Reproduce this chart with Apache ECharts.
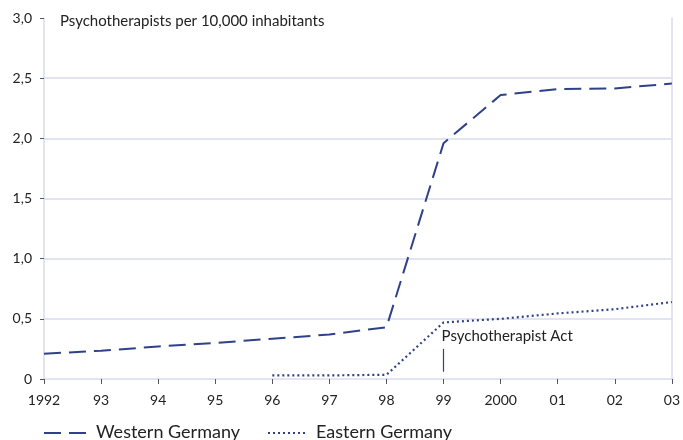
<!DOCTYPE html>
<html><head><meta charset="utf-8">
<script src="https://cdn.jsdelivr.net/npm/echarts@6/dist/echarts.min.js"></script>
<style>html,body{margin:0;padding:0;background:#fff}#c{width:683px;height:440px}</style>
</head><body><div id="c"></div>
<script>
const years = ['1992','93','94','95','96','97','98','99','2000','01','02','03'];
const western = [0.21,0.235,0.27,0.30,0.335,0.37,0.43,1.96,2.36,2.41,2.415,2.455];
const eastern = [null,null,null,null,0.03,0.03,0.035,0.47,0.50,0.545,0.58,0.64];
const yTicks = ['0','0,5','1,0','1,5','2,0','2,5','3,0'];
const seriesNames = ['Western Germany','Eastern Germany'];
const titleText = 'Psychotherapists per 10,000 inhabitants';
const annotationText = 'Psychotherapist Act';
const FONT = 'Lato';
const LINE = '#2f4189';
const TXT = '#222';
const GRID = '#d9dbee';
const chart = echarts.init(document.getElementById('c'), null, {renderer:'canvas'});
chart.setOption({
  animation:false,
  textStyle:{fontFamily:FONT},
  title:{text:titleText,left:55,top:9,textStyle:{fontFamily:FONT,fontSize:15,fontWeight:'normal',color:TXT}},
  grid:{left:44,right:11,top:18,bottom:61},
  graphic:[
    {type:'line',shape:{x1:44,y1:433,x2:86,y2:433},style:{stroke:LINE,lineWidth:2,lineDash:[17,8]}},
    {type:'text',left:96,top:423,style:{text:seriesNames[0],font:'18px Lato',fill:TXT}},
    {type:'line',shape:{x1:268,y1:433,x2:306,y2:433},style:{stroke:LINE,lineWidth:2.2,lineDash:[2,3]}},
    {type:'text',left:316,top:423,style:{text:seriesNames[1],font:'18px Lato',fill:TXT}}
  ],
  xAxis:{type:'category',data:years,boundaryGap:false,
    axisLine:{lineStyle:{color:GRID,width:1.5}},
    axisTick:{show:true,length:5,lineStyle:{color:'#556',width:1}},
    axisLabel:{color:TXT,fontSize:14,fontFamily:FONT,margin:14}},
  yAxis:[{type:'value',min:0,max:3,interval:0.5,
    axisLine:{show:true,lineStyle:{color:GRID,width:1.5}},
    axisTick:{show:true,length:4,lineStyle:{color:'#556'}},
    splitLine:{show:true,showMinLine:false,showMaxLine:false,lineStyle:{color:GRID,width:1.5}},
    axisLabel:{color:TXT,fontSize:14,fontFamily:FONT,margin:12,formatter:(v)=>yTicks[Math.round(v*2)]}},
    {type:'value',min:0,max:3,interval:0.5,position:'right',
    axisLine:{show:true,lineStyle:{color:GRID,width:1.5}},axisTick:{show:false},axisLabel:{show:false},splitLine:{show:false}}],
  series:[
    {name:seriesNames[0],type:'line',data:western,symbol:'none',
      lineStyle:{color:LINE,width:2,type:[17,8]},itemStyle:{color:LINE}},
    {name:seriesNames[1],type:'line',data:eastern,symbol:'none',
      lineStyle:{color:LINE,width:2.2,type:[2,3]},itemStyle:{color:LINE},
      markLine:{silent:true,symbol:['none','none'],
        lineStyle:{color:LINE,width:1.2,type:'solid'},
        label:{show:true,position:'end',formatter:annotationText,color:TXT,fontFamily:FONT,fontSize:15,align:'left',offset:[-2,0]},
        data:[[{coord:['99',0.06]},{coord:['99',0.25]}]]}}
  ]
});
</script></body></html>
